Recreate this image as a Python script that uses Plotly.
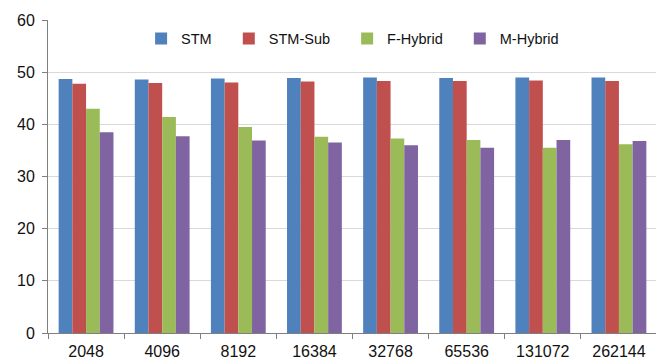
import plotly.graph_objects as go

categories = ["2048", "4096", "8192", "16384", "32768", "65536", "131072", "262144"]
stm = [48.7, 48.6, 48.8, 48.9, 49.0, 48.9, 49.0, 49.0]
stm_sub = [47.8, 47.9, 48.0, 48.2, 48.3, 48.3, 48.4, 48.3]
f_hybrid = [43.0, 41.4, 39.5, 37.6, 37.3, 37.0, 35.5, 36.2]
m_hybrid = [38.5, 37.7, 36.9, 36.5, 36.0, 35.5, 37.0, 36.8]

series = [
    ("STM", stm, "#4F81BD"),
    ("STM-Sub", stm_sub, "#C0504D"),
    ("F-Hybrid", f_hybrid, "#9BBB59"),
    ("M-Hybrid", m_hybrid, "#8064A2"),
]

pad = "\u00a0" * 3
fig = go.Figure()
for name, vals, col in series:
    fig.add_trace(go.Bar(x=categories, y=vals, name=name + pad,
                         marker=dict(color=col, line=dict(width=0))))

font = "Liberation Sans, Arial, sans-serif"
# page body has an 8px default margin, so figure is 656x354 placed at (8,8)
fig.update_layout(
    width=656, height=354,
    margin=dict(l=40, r=7, t=12, b=29, autoexpand=False),
    paper_bgcolor="white", plot_bgcolor="white",
    barmode="group", bargap=0.28, bargroupgap=0,
    font=dict(family=font, size=15, color="#111111"),
    legend=dict(orientation="h", x=0.51, xanchor="center", y=0.992, yanchor="top",
                font=dict(size=14.5, color="#111111"), bgcolor="rgba(0,0,0,0)",
                itemwidth=30, traceorder="normal"),
    showlegend=True,
)
fig.update_xaxes(type="category", showline=True, linecolor="#7f7f7f", linewidth=1,
                 ticks="outside", tickson="boundaries", ticklen=5, tickcolor="#7f7f7f",
                 showgrid=False, tickfont=dict(size=16), ticklabelstandoff=4,
                 automargin=False)
fig.update_yaxes(range=[0, 60], dtick=10, showline=True, linecolor="#7f7f7f", linewidth=1,
                 ticks="outside", ticklen=5, tickcolor="#7f7f7f",
                 showgrid=True, gridcolor="#d9d9d9", gridwidth=1, zeroline=False,
                 tickfont=dict(size=16), ticklabelstandoff=4, automargin=False)

fig.write_html("out.html")
